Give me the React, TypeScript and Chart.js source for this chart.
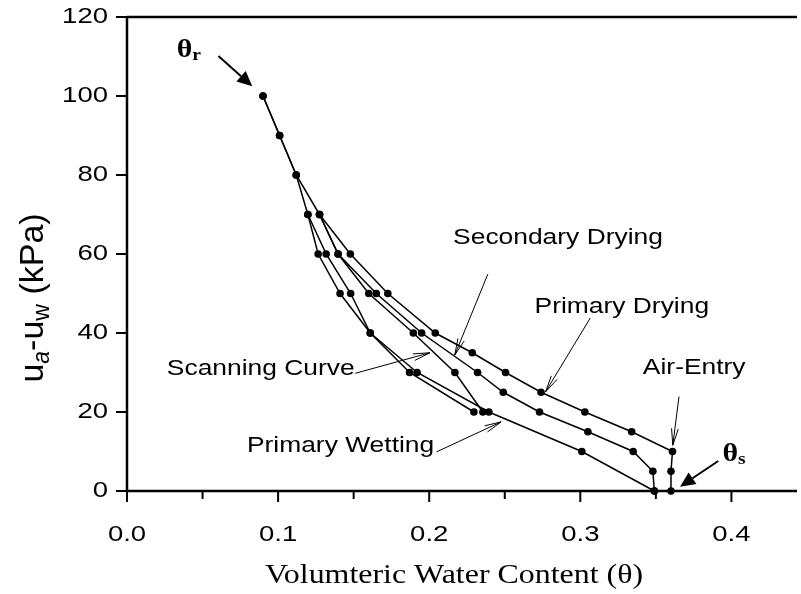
import React, { useEffect, useRef } from "react";
import { Chart, registerables } from "chart.js";

Chart.register(...registerables);

// ---- data (theta = volumetric water content, suction in kPa) ----
const primaryDryingTheta = [0.36, 0.36, 0.361, 0.334, 0.303, 0.274, 0.2505, 0.2285, 0.204, 0.1726, 0.1478, 0.1274, 0.112, 0.101, 0.09];
const primaryDryingSuction = [0, 5, 10, 15, 20, 25, 30, 35, 40, 50, 60, 70, 80, 90, 100];

const secondaryDryingTheta = [0.349, 0.348, 0.335, 0.305, 0.273, 0.249, 0.232, 0.195, 0.165, 0.1397, 0.1274];
const secondaryDryingSuction = [0, 5, 10, 15, 20, 25, 30, 40, 50, 60, 70];

const primaryWettingTheta = [0.09, 0.101, 0.112, 0.1197, 0.1318, 0.148, 0.161, 0.192, 0.2395, 0.301, 0.349];
const primaryWettingSuction = [100, 90, 80, 70, 60, 50, 40, 30, 20, 10, 0];

const scanningWettingTheta = [0.1197, 0.1265, 0.141, 0.161, 0.187, 0.2296];
const scanningWettingSuction = [70, 60, 50, 40, 30, 20];

const scanningDryingTheta = [0.2355, 0.217, 0.1895, 0.16, 0.1397, 0.1274];
const scanningDryingSuction = [20, 30, 40, 50, 60, 70];

const xMajorTicks = [0, 0.1, 0.2, 0.3, 0.4];
const xTickLabels = ["0.0", "0.1", "0.2", "0.3", "0.4"];
const xMinorTicks = [0.05, 0.15, 0.25, 0.35];
const yTicks = [0, 20, 40, 60, 80, 100, 120];
const yTickLabels = ["0", "20", "40", "60", "80", "100", "120"];

const xTitle = "Volumteric Water Content (θ)";

// annotations (in data coordinates)
const labelNotes = [
  { text: "Secondary Drying", at: [0.2158, 62.5], align: "left", from: [0.2388, 54.9], to: [0.2169, 34.4] },
  { text: "Primary Drying", at: [0.2697, 45.1], align: "left", from: [0.3066, 43.8], to: [0.277, 25.1] },
  { text: "Air-Entry", at: [0.3414, 29.6], align: "left", from: [0.3653, 23.9], to: [0.3612, 11.6] },
  { text: "Scanning Curve", at: [0.1507, 29.4], align: "right", from: [0.1511, 29.8], to: [0.2005, 35.0] },
  { text: "Primary Wetting", at: [0.2033, 9.9], align: "right", from: [0.2048, 9.9], to: [0.2476, 17.5] },
];
const thetaNotes = [
  { sub: "r", at: [0.0329, 109.9], from: [0.0605, 110.1], to: [0.0829, 102.5] },
  { sub: "s", at: [0.3941, 7.6], from: [0.3913, 7.6], to: [0.366, 1.1] },
];

const SANS = '"Liberation Sans", Arial, sans-serif';
const SERIF = '"Liberation Serif", "Times New Roman", serif';
const SX = 1.2;

function drawText(ctx: CanvasRenderingContext2D, s: string, x: number, y: number, font: string, align: CanvasTextAlign, sx = SX, baseline: CanvasTextBaseline = "alphabetic") {
  ctx.save();
  ctx.translate(x, y);
  ctx.scale(sx, 1);
  ctx.font = font;
  ctx.textAlign = align;
  ctx.textBaseline = baseline;
  ctx.fillStyle = "#000";
  ctx.fillText(s, 0, 0);
  ctx.restore();
}

function openArrow(ctx: CanvasRenderingContext2D, x1: number, y1: number, x2: number, y2: number) {
  const a = Math.atan2(y2 - y1, x2 - x1);
  const L = 17;
  ctx.save();
  ctx.strokeStyle = "#000";
  ctx.lineWidth = 1;
  ctx.beginPath();
  ctx.moveTo(x1, y1);
  ctx.lineTo(x2, y2);
  for (const s of [-1, 1]) {
    ctx.moveTo(x2, y2);
    ctx.lineTo(x2 - L * Math.cos(a + s * 0.2), y2 - L * Math.sin(a + s * 0.2));
  }
  ctx.stroke();
  ctx.restore();
}

function filledArrow(ctx: CanvasRenderingContext2D, x1: number, y1: number, x2: number, y2: number) {
  const a = Math.atan2(y2 - y1, x2 - x1);
  const L = 15;
  const W = 7;
  const bx = x2 - L * Math.cos(a);
  const by = y2 - L * Math.sin(a);
  ctx.save();
  ctx.strokeStyle = "#000";
  ctx.fillStyle = "#000";
  ctx.lineWidth = 2;
  ctx.beginPath();
  ctx.moveTo(x1, y1);
  ctx.lineTo(bx, by);
  ctx.stroke();
  ctx.beginPath();
  ctx.moveTo(x2, y2);
  ctx.lineTo(bx + W * Math.sin(a), by - W * Math.cos(a));
  ctx.lineTo(bx - W * Math.sin(a), by + W * Math.cos(a));
  ctx.closePath();
  ctx.fill();
  ctx.restore();
}

const decorPlugin = {
  id: "decor",
  beforeDatasetsDraw(chart: any) {
    const ctx: CanvasRenderingContext2D = chart.ctx;
    const xs = chart.scales.x;
    const ys = chart.scales.y;
    const { left, right, top, bottom } = chart.chartArea;
    ctx.save();
    ctx.strokeStyle = "#000";
    ctx.lineWidth = 2.5;
    ctx.lineCap = "butt";
    ctx.beginPath();
    ctx.moveTo(left, top);
    ctx.lineTo(left, bottom);
    ctx.moveTo(left, bottom);
    ctx.lineTo(right, bottom);
    ctx.moveTo(left, top);
    ctx.lineTo(right, top);
    ctx.stroke();
    ctx.lineWidth = 2;
    ctx.beginPath();
    for (const v of yTicks) {
      const y = ys.getPixelForValue(v);
      ctx.moveTo(left - 11, y);
      ctx.lineTo(left, y);
    }
    for (const v of xMajorTicks) {
      const x = xs.getPixelForValue(v);
      ctx.moveTo(x, bottom);
      ctx.lineTo(x, bottom + 11);
    }
    for (const v of xMinorTicks) {
      const x = xs.getPixelForValue(v);
      ctx.moveTo(x, bottom);
      ctx.lineTo(x, bottom + 8);
    }
    ctx.stroke();
    ctx.restore();

    const tickFont = `22px ${SANS}`;
    yTicks.forEach((v, i) => {
      drawText(ctx, yTickLabels[i], left - 19, ys.getPixelForValue(v), tickFont, "right", 1.25, "middle");
    });
    xMajorTicks.forEach((v, i) => {
      drawText(ctx, xTickLabels[i], xs.getPixelForValue(v), 541, tickFont, "center", 1.25);
    });
    drawText(ctx, xTitle, 454, 583, `28px ${SERIF}`, "center", 1.14);

    // y title with subscripts (rotated)
    const runs = [
      { t: "u", sub: false, it: false },
      { t: "a", sub: true, it: true },
      { t: "-u", sub: false, it: false },
      { t: "w", sub: true, it: false },
      { t: " (kPa)", sub: false, it: false },
    ];
    const mainF = `34px ${SANS}`;
    const subF = (it: boolean) => `${it ? "italic " : ""}23px ${SANS}`;
    ctx.save();
    let total = 0;
    for (const r of runs) {
      ctx.font = r.sub ? subF(r.it) : mainF;
      total += ctx.measureText(r.t).width;
    }
    ctx.translate(43, 298);
    ctx.rotate(-Math.PI / 2);
    ctx.fillStyle = "#000";
    ctx.textBaseline = "alphabetic";
    ctx.textAlign = "left";
    let cx = -total / 2;
    for (const r of runs) {
      ctx.font = r.sub ? subF(r.it) : mainF;
      ctx.fillText(r.t, cx, r.sub ? 6 : 0);
      cx += ctx.measureText(r.t).width;
    }
    ctx.restore();
  },
  afterDatasetsDraw(chart: any) {
    const ctx: CanvasRenderingContext2D = chart.ctx;
    const xs = chart.scales.x;
    const ys = chart.scales.y;
    const px = (p: number[]) => [xs.getPixelForValue(p[0]), ys.getPixelForValue(p[1])];
    for (const n of labelNotes) {
      const [tx, ty] = px(n.at);
      drawText(ctx, n.text, tx, ty, `22px ${SANS}`, n.align as CanvasTextAlign);
      const [x1, y1] = px(n.from);
      const [x2, y2] = px(n.to);
      openArrow(ctx, x1, y1, x2, y2);
    }
    for (const n of thetaNotes) {
      const [tx, ty] = px(n.at);
      ctx.save();
      ctx.font = `bold 26px ${SERIF}`;
      const w = ctx.measureText("θ").width * 1.15;
      ctx.restore();
      drawText(ctx, "θ", tx, ty, `bold 26px ${SERIF}`, "left", 1.15);
      drawText(ctx, n.sub, tx + w, ty + 3, `bold 17px ${SERIF}`, "left", 1.15);
      const [x1, y1] = px(n.from);
      const [x2, y2] = px(n.to);
      filledArrow(ctx, x1, y1, x2, y2);
    }
  },
};

const toPoints = (xs: number[], ys: number[]) => xs.map((x, i) => ({ x, y: ys[i] }));

export default function App() {
  const ref = useRef<HTMLCanvasElement | null>(null);
  useEffect(() => {
    if (!ref.current) return;
    const series = [
      { label: "Primary Drying", data: toPoints(primaryDryingTheta, primaryDryingSuction) },
      { label: "Secondary Drying", data: toPoints(secondaryDryingTheta, secondaryDryingSuction) },
      { label: "Primary Wetting", data: toPoints(primaryWettingTheta, primaryWettingSuction) },
      { label: "Scanning Wetting", data: toPoints(scanningWettingTheta, scanningWettingSuction) },
      { label: "Scanning Drying", data: toPoints(scanningDryingTheta, scanningDryingSuction) },
    ];
    const chart = new Chart(ref.current, {
      type: "scatter",
      data: {
        datasets: series.map((s) => ({
          label: s.label,
          data: s.data,
          showLine: true,
          borderColor: "#000",
          borderWidth: 1.5,
          backgroundColor: "#000",
          pointRadius: 3.8,
          pointBackgroundColor: "#000",
          pointBorderColor: "#000",
          pointBorderWidth: 0,
          tension: 0,
          clip: false as any,
        })),
      },
      options: {
        animation: false,
        responsive: false,
        devicePixelRatio: 1,
        layout: { padding: { left: 127, top: 17, right: 0, bottom: 103 } },
        scales: {
          x: { type: "linear", display: false, min: 0, max: 0.4434 },
          y: { type: "linear", display: false, min: 0, max: 120 },
        },
        plugins: { legend: { display: false }, tooltip: { enabled: false } },
      },
      plugins: [decorPlugin],
    });
    return () => chart.destroy();
  }, []);
  return (
    <div style={{ position: "absolute", left: 0, top: 0, width: 801, height: 594, background: "#fff" }}>
      <canvas ref={ref} width={801} height={594} style={{ display: "block" }} />
    </div>
  );
}
